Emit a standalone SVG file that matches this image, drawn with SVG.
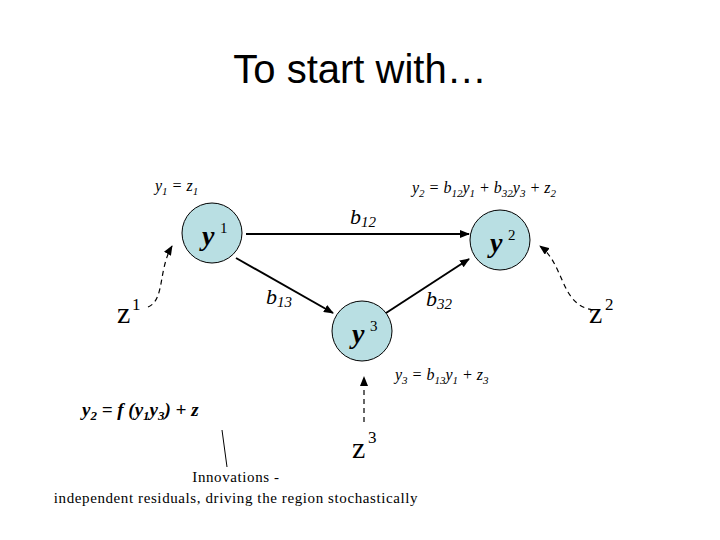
<svg xmlns="http://www.w3.org/2000/svg" width="720" height="540" viewBox="0 0 720 540">
<defs>
<marker id="ah" markerWidth="10" markerHeight="8" refX="9" refY="4" orient="auto" markerUnits="userSpaceOnUse"><path d="M0,0 L10,4 L0,8 Z" fill="#000"/></marker>
<style>
.n{fill:#b9dfe3;stroke:#000;stroke-width:1}
.t{font-family:"Liberation Serif",serif;font-style:italic}
.s{font-family:"Liberation Serif",serif}
.e{stroke:#000;stroke-width:2;fill:none;marker-end:url(#ah)}
.d{stroke:#000;stroke-width:1.2;fill:none;stroke-dasharray:5,4;marker-end:url(#ah)}
.z{font-family:"Liberation Serif",serif;font-size:30px}
</style>
</defs>
<rect width="720" height="540" fill="#fff"/>
<text x="360" y="83" text-anchor="middle" font-family="'Liberation Sans',sans-serif" font-size="40">To start with…</text>
<text class="t" x="155" y="191" font-size="16">y<tspan font-size="11" dy="4">1</tspan><tspan dy="-4"> =  z</tspan><tspan font-size="11" dy="4">1</tspan></text>
<text class="t" x="412" y="193" font-size="16">y<tspan font-size="11" dy="4">2</tspan><tspan dy="-4"> = b</tspan><tspan font-size="11" dy="4">12</tspan><tspan dy="-4">y</tspan><tspan font-size="11" dy="4">1</tspan><tspan dy="-4"> + b</tspan><tspan font-size="11" dy="4">32</tspan><tspan dy="-4">y</tspan><tspan font-size="11" dy="4">3</tspan><tspan dy="-4"> + z</tspan><tspan font-size="11" dy="4">2</tspan></text>
<text class="t" x="395" y="380" font-size="16">y<tspan font-size="11" dy="4">3</tspan><tspan dy="-4"> = b</tspan><tspan font-size="11" dy="4">13</tspan><tspan dy="-4">y</tspan><tspan font-size="11" dy="4">1</tspan><tspan dy="-4"> + z</tspan><tspan font-size="11" dy="4">3</tspan></text>
<g id="connectors">
<line class="e" x1="246" y1="234" x2="469" y2="234"/>
<line class="e" x1="236" y1="258" x2="333" y2="313"/>
<line class="e" x1="386" y1="313" x2="469" y2="259"/>
<path class="d" d="M148,307 C165,300 158,270 172,246"/>
<path class="d" d="M593,310 C560,305 565,265 540,246"/>
<line class="d" x1="364" y1="422" x2="364" y2="377"/>
<line stroke="#000" stroke-width="1" x1="222" y1="430" x2="227" y2="467"/>
</g>
<g id="n1"><circle class="n" cx="212" cy="233" r="30"/><text class="t" x="202" y="245" font-size="28" font-weight="bold">y</text><text class="s" x="220" y="233" font-size="15">1</text></g>
<g id="n2"><circle class="n" cx="500" cy="240" r="30"/><text class="t" x="490" y="252" font-size="28" font-weight="bold">y</text><text class="s" x="508" y="240" font-size="15">2</text></g>
<g id="n3"><circle class="n" cx="362" cy="331" r="30"/><text class="t" x="352" y="343" font-size="28" font-weight="bold">y</text><text class="s" x="370" y="331" font-size="15">3</text></g>
<text class="t" x="350" y="224" font-size="22">b<tspan font-size="15" dy="3">12</tspan></text>
<text class="t" x="266" y="304" font-size="22">b<tspan font-size="15" dy="3">13</tspan></text>
<text class="t" x="426" y="306" font-size="22">b<tspan font-size="15" dy="3">32</tspan></text>
<g id="z1"><text class="z" x="117" y="323">z</text><text class="s" x="132" y="310" font-size="17">1</text></g>
<g id="z2"><text class="z" x="589" y="323">z</text><text class="s" x="605" y="310" font-size="17">2</text></g>
<g id="z3"><text class="z" x="352" y="458">z</text><text class="s" x="368" y="443" font-size="17">3</text></g>
<text class="t" x="82" y="416" font-weight="bold" font-size="19">y<tspan font-size="13" dy="4">2</tspan><tspan dy="-4"> = f (y</tspan><tspan font-size="13" dy="4">1</tspan><tspan dy="-4">y</tspan><tspan font-size="13" dy="4">3</tspan><tspan dy="-4">) +   z</tspan></text>
<text class="s" x="236" y="482" text-anchor="middle" font-size="15" letter-spacing="0.6">Innovations -</text>
<text class="s" x="236" y="503" text-anchor="middle" font-size="15" letter-spacing="0.6">independent residuals, driving the region stochastically</text>
</svg>
